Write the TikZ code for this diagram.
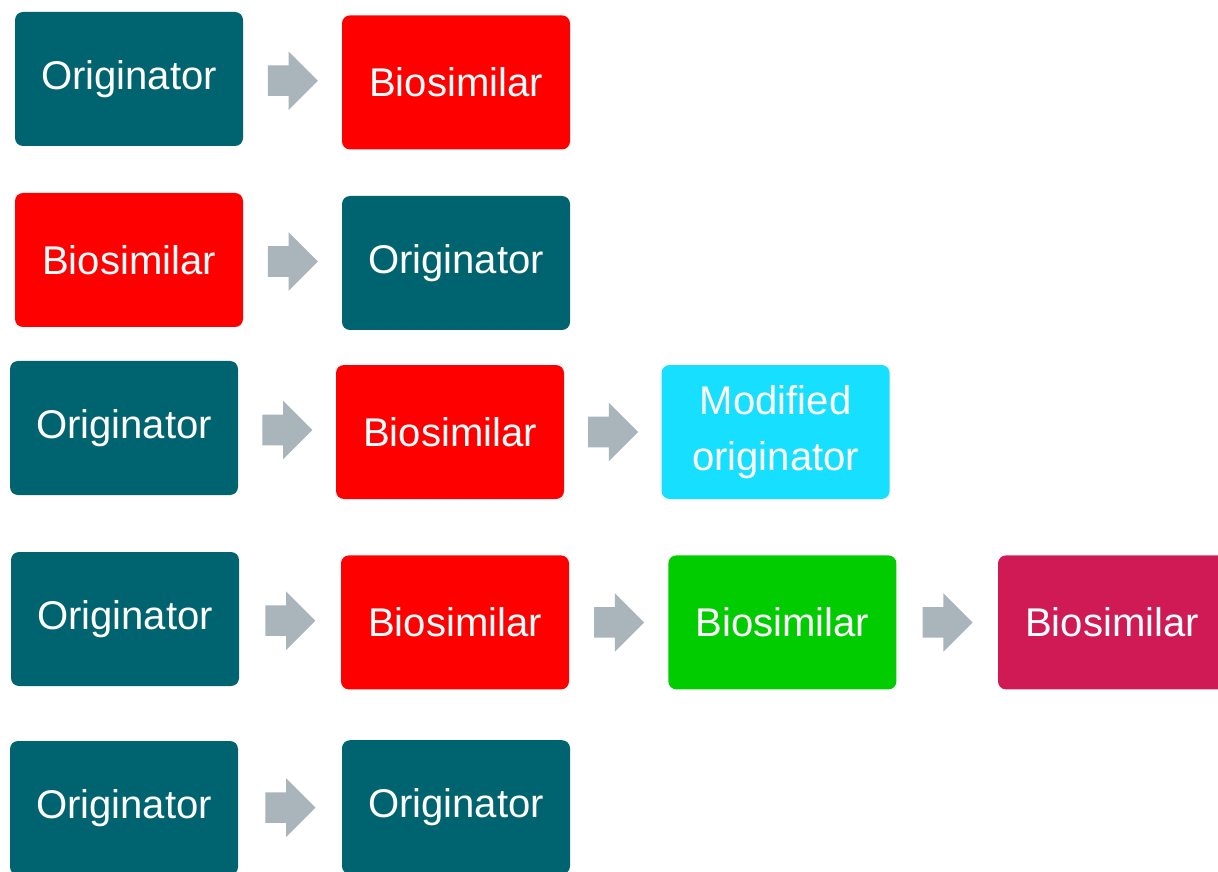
\documentclass[tikz,border=0pt]{standalone}
\usepackage{fontspec}
\setmainfont{Liberation Sans}
\usepackage{tikz}
\usetikzlibrary{shapes.arrows,calc}
\definecolor{origteal}{RGB}{0,99,112}
\definecolor{biored}{RGB}{255,0,0}
\definecolor{modcyan}{RGB}{23,223,255}
\definecolor{biogreen}{RGB}{0,204,0}
\definecolor{biocrimson}{RGB}{207,26,85}
\definecolor{arrowgray}{RGB}{169,180,187}

\begin{document}
\begin{tikzpicture}[
  box/.style={rounded corners=0.2cm, minimum width=5.7cm, minimum height=3.35cm, text=white, align=center, font=\fontsize{28.5}{40}\selectfont},
  switch/.style={single arrow, fill=arrowgray, minimum height=1.25cm, minimum width=1.45cm, inner xsep=0pt, inner ysep=0.375cm, single arrow head extend=0.35cm, single arrow head indent=0pt, xshift=-0.18cm}
]
\useasboundingbox (0,0) rectangle (30.45,-21.8);

% Row 1: originator to biosimilar
\node[box, fill=origteal] (orig-a) at (3.225, -1.975) {Originator};
\node[box, fill=biored] (bio-a) at (11.4, -2.06) {Biosimilar};

% Row 2: biosimilar to originator
\node[box, fill=biored] (bio-b) at (3.225, -6.5) {Biosimilar};
\node[box, fill=origteal] (orig-b) at (11.4, -6.575) {Originator};

% Row 3: originator to biosimilar to modified originator
\node[box, fill=origteal] (orig-c) at (3.1, -10.7) {Originator};
\node[box, fill=biored] (bio-c) at (11.25, -10.8) {Biosimilar};
\node[box, fill=modcyan] (mod-c) at (19.39, -10.8) {Modified\\originator};

% Row 4: originator to three biosimilars
\node[box, fill=origteal] (orig-d) at (3.125, -15.475) {Originator};
\node[box, fill=biored] (bio-d) at (11.375, -15.56) {Biosimilar};
\node[box, fill=biogreen] (bio2-d) at (19.56, -15.56) {Biosimilar};
\node[box, fill=biocrimson] (bio3-d) at (27.8, -15.56) {Biosimilar};

% Row 5: originator to originator
\node[box, fill=origteal] (orig-e) at (3.1, -20.2) {Originator};
\node[box, fill=origteal] (orig2-e) at (11.4, -20.18) {Originator};

% Switch arrows
\node[switch] (sw-a) at ($(orig-a.east)!0.5!(bio-a.west)$) {};
\node[switch] (sw-b) at ($(bio-b.east)!0.5!(orig-b.west)$) {};
\node[switch] (sw-c1) at ($(orig-c.east)!0.5!(bio-c.west)$) {};
\node[switch] (sw-c2) at ($(bio-c.east)!0.5!(mod-c.west)$) {};
\node[switch] (sw-d1) at ($(orig-d.east)!0.5!(bio-d.west)$) {};
\node[switch] (sw-d2) at ($(bio-d.east)!0.5!(bio2-d.west)$) {};
\node[switch] (sw-d3) at ($(bio2-d.east)!0.5!(bio3-d.west)$) {};
\node[switch] (sw-e) at ($(orig-e.east)!0.5!(orig2-e.west)$) {};
\end{tikzpicture}
\end{document}
